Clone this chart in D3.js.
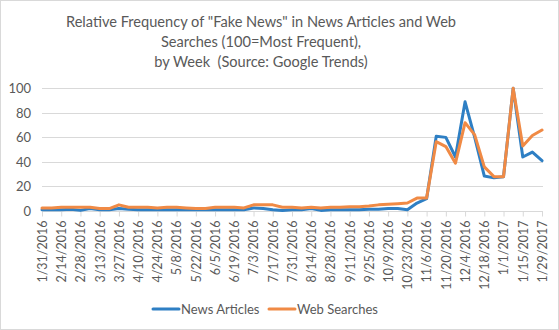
<!DOCTYPE html>
<html><head><meta charset="utf-8">
<script src="https://cdn.jsdelivr.net/npm/d3@7"></script>
<style>
html,body{margin:0;padding:0;background:#fff;}
svg{display:block;font-family:Lato,"Open Sans",sans-serif;}
</style></head>
<body><svg id="c" width="559" height="330"></svg>
<script>
const titleLines = ['Relative Frequency of "Fake News" in News Articles and Web', 'Searches (100=Most Frequent),', 'by Week  (Source: Google Trends)'];
const dates = ["1/31/2016","2/7/2016","2/14/2016","2/21/2016","2/28/2016","3/6/2016","3/13/2016","3/20/2016","3/27/2016","4/3/2016","4/10/2016","4/17/2016","4/24/2016","5/1/2016","5/8/2016","5/15/2016","5/22/2016","5/29/2016","6/5/2016","6/12/2016","6/19/2016","6/26/2016","7/3/2016","7/10/2016","7/17/2016","7/24/2016","7/31/2016","8/7/2016","8/14/2016","8/21/2016","8/28/2016","9/4/2016","9/11/2016","9/18/2016","9/25/2016","10/2/2016","10/9/2016","10/16/2016","10/23/2016","10/30/2016","11/6/2016","11/13/2016","11/20/2016","11/27/2016","12/4/2016","12/11/2016","12/18/2016","12/25/2016","1/1/2017","1/8/2017","1/15/2017","1/22/2017","1/29/2017"];
const newsArticles = [1,1,1,1.5,0.5,2,1,1,2,1.5,1,1,1,1,1,1,1,1,1,1,1,1,2.5,2,1,0.5,1,1,2,0.5,1,1,1,1,1.5,1.5,2,2,1,6.5,10,61,60,44,89,60,28.5,27,28,100,44,48,41];
const webSearches = [2.5,2.5,3,3,3,3,2,2,5,3,3,3,2.5,3,3,2.5,2,2,3,3,3,2.5,5,5,5,3,3,2.5,3,2.5,3,3,3.5,3.5,4,5,5.5,6,6.5,10.5,10.5,56.5,52.5,39,72,62,36,28,28,100,53,61.5,66];
const yTicks = [0,20,40,60,80,100];
const seriesNames = ["News Articles","Web Searches"];
const colors = ["#2E7FC4","#F08A45"];

const svg = d3.select("#c");
svg.append("rect").attr("x",0.5).attr("y",0.5).attr("width",558).attr("height",329)
  .attr("fill","#fff").attr("stroke","#d9d9d9");

const x = d3.scalePoint().domain(d3.range(dates.length)).range([42,542]);
const y = d3.scaleLinear().domain([0,100]).range([211,88.3]);

// title
const t = svg.append("text").attr("text-anchor","middle").attr("fill","#595959")
  .style("font-size","14.6px").style("white-space","pre");
titleLines.forEach((l,i)=>t.append("tspan").attr("x",261).attr("y",27+i*20).text(l));

// gridlines
svg.append("g").selectAll("line").data(yTicks.filter(d=>d>0)).join("line")
  .attr("x1",42).attr("x2",543).attr("y1",d=>Math.round(y(d))+0.5).attr("y2",d=>Math.round(y(d))+0.5)
  .attr("stroke","#d9d9d9").attr("stroke-width",1);

// y axis labels
const yAxis = d3.axisLeft(y).tickValues(yTicks).tickSize(0).tickPadding(0);
const gy = svg.append("g").attr("transform","translate(31,0)").call(yAxis);
gy.select(".domain").remove();
gy.selectAll("text").attr("fill","#595959").style("font-size","13px").style("font-family","Lato,'Open Sans',sans-serif");

// x axis
const tickIdx = d3.range(0,dates.length,2);
const xAxis = d3.axisBottom(x).tickValues(tickIdx).tickFormat(i=>dates[i]).tickSize(5).tickSizeOuter(0);
const gx = svg.append("g").attr("transform",`translate(0,${Math.round(y(0))+0.5})`).call(xAxis);
gx.select(".domain").attr("stroke","#d9d9d9").attr("d","M42,0H543");
gx.selectAll(".tick line").attr("stroke","#d9d9d9");
gx.selectAll("text").attr("fill","#595959").style("font-size","12.5px").style("font-family","Lato,'Open Sans',sans-serif")
  .attr("transform","rotate(-90)").attr("text-anchor","end").attr("x",-9).attr("y",0).attr("dy","0.35em");

// lines
const line = d3.line().x((d,i)=>x(i)).y(d=>y(d));
[newsArticles, webSearches].forEach((s,k)=>{
  svg.append("path").datum(s).attr("d",line).attr("fill","none")
    .attr("stroke",colors[k]).attr("stroke-width",3).attr("stroke-linejoin","round").attr("stroke-linecap","round");
});

// legend
const legX = [153,269];
seriesNames.forEach((n,k)=>{
  svg.append("line").attr("x1",legX[k]).attr("x2",legX[k]+26).attr("y1",309).attr("y2",309)
    .attr("stroke",colors[k]).attr("stroke-width",3).attr("stroke-linecap","round");
  svg.append("text").attr("x",legX[k]+28).attr("y",313.5).attr("fill","#595959")
    .style("font-size","13px").text(n);
});
</script></body></html>
